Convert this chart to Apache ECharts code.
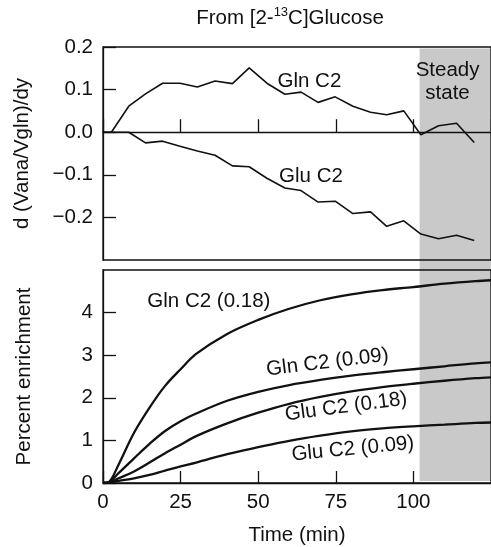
<!DOCTYPE html>
<html><head><meta charset="utf-8">
<script src="https://cdn.jsdelivr.net/npm/echarts@6/dist/echarts.min.js"></script>
<style>html,body{margin:0;padding:0;background:#fff}#c{width:491px;height:547px}</style>
</head><body><div id="c"></div>
<script>
// ---- Top panel: d(Vana/Vgln)/dy ----
const timeTop = [0, 2.7, 8.3, 13.7, 19.2, 24.8, 30.4, 36.1, 41.7, 47.1, 52.8, 58.6, 63.8, 69.3, 74.8, 80.5, 86.2, 91.4, 96.9, 102.4, 108.1, 113.9, 119.6];
const glnSlope = [0, 0, 0.061, 0.090, 0.115, 0.115, 0.106, 0.120, 0.114, 0.151, 0.115, 0.089, 0.094, 0.070, 0.083, 0.061, 0.047, 0.041, 0.050, -0.006, 0.015, 0.021, -0.024];
const gluSlope = [0, 0, 0, -0.025, -0.021, -0.033, -0.044, -0.054, -0.079, -0.081, -0.108, -0.131, -0.137, -0.164, -0.162, -0.191, -0.187, -0.221, -0.208, -0.239, -0.250, -0.242, -0.254];

// ---- Bottom panel: percent enrichment ----
const timeBottom = [0, 2, 5, 10, 15, 20, 25, 30, 40, 50, 60, 70, 80, 90, 100, 110, 120, 125];
const glnHigh = [0, 0.03, 0.43, 1.18, 1.77, 2.28, 2.67, 3.03, 3.50, 3.83, 4.09, 4.29, 4.43, 4.53, 4.60, 4.68, 4.74, 4.76];
const glnLow  = [0, 0.02, 0.23, 0.58, 0.92, 1.22, 1.45, 1.63, 1.93, 2.14, 2.30, 2.42, 2.52, 2.60, 2.67, 2.74, 2.81, 2.83];
const gluHigh = [0, 0.01, 0.11, 0.27, 0.48, 0.70, 0.90, 1.10, 1.40, 1.65, 1.86, 2.02, 2.15, 2.25, 2.33, 2.40, 2.46, 2.48];
const gluLow  = [0, 0.01, 0.05, 0.11, 0.19, 0.29, 0.39, 0.48, 0.68, 0.84, 0.99, 1.11, 1.21, 1.28, 1.33, 1.37, 1.41, 1.42];

const steadyStart = 102;

// annotation texts with their anchor in data coordinates
const notesTopText = ['Gln C2', 'Glu C2', 'Steady\nstate'];
const notesTopT = [66.5, 67, 111];
const notesTopV = [0.1185, -0.104, 0.119];
const notesBotText = ['Gln C2 (0.18)', 'Gln C2 (0.09)', 'Glu C2 (0.18)', 'Glu C2 (0.09)'];
const notesBotT = [34.1, 72.3, 78.3, 80.5];
const notesBotV = [4.26, 2.83, 1.79, 0.80];
const notesBotRot = [0, 7, 7.5, 5.5];

const FONT = '"Liberation Sans", Arial, Helvetica, sans-serif';
const FS = 20.5;
const INK = '#111';
const zip = (a, b) => a.map((x, i) => [x, b[i]]);

const chart = echarts.init(document.getElementById('c'));
const axisLine = {lineStyle: {color: INK, width: 1.3}};
const fmtTop = v => Math.abs(v) < 1e-9 ? '0.0' : (v < 0 ? '\u2212' + Math.abs(v).toFixed(1) : v.toFixed(1));

chart.setOption({
  animation: false,
  textStyle: {fontFamily: FONT},
  grid: [
    {left: 103, top: 47, right: -11, height: 213, show: true, borderColor: INK, borderWidth: 1.3},
    {left: 103, top: 270, right: -11, height: 213, show: true, borderColor: INK, borderWidth: 1.3}
  ],
  xAxis: [
    {gridIndex: 0, type: 'value', min: 0, max: 125, interval: 25,
     axisLine: {onZero: true, lineStyle: {color: INK, width: 1.3}},
     axisTick: {inside: true, length: 13, lineStyle: {color: INK, width: 1.3}},
     axisLabel: {show: false}, splitLine: {show: false}},
    {gridIndex: 1, type: 'value', min: 0, max: 125, interval: 25,
     axisLine: axisLine,
     axisTick: {inside: true, length: 12, lineStyle: {color: INK, width: 1.3}},
     axisLabel: {fontSize: FS, color: INK, margin: 9, showMaxLabel: false, fontFamily: FONT},
     splitLine: {show: false},
     name: 'Time (min)', nameLocation: 'middle', nameGap: 42,
     nameTextStyle: {fontSize: FS, color: INK, fontFamily: FONT}}
  ],
  yAxis: [
    {gridIndex: 0, type: 'value', min: -0.3, max: 0.2, interval: 0.1,
     axisLine: {show: true, onZero: false, lineStyle: {color: INK, width: 1.3}},
     axisTick: {inside: true, length: 13, lineStyle: {color: INK, width: 1.3}},
     axisLabel: {fontSize: FS, color: INK, margin: 10, showMinLabel: false, formatter: fmtTop, fontFamily: FONT, padding: [6, 0, 0, 0]},
     splitLine: {show: false},
     name: 'd (Vana/Vgln)/dy', nameLocation: 'middle', nameGap: 70, nameRotate: 90,
     nameTextStyle: {fontSize: FS, color: INK, fontFamily: FONT}},
    {gridIndex: 1, type: 'value', min: 0, max: 5, interval: 1,
     axisLine: {show: true, onZero: false, lineStyle: {color: INK, width: 1.3}},
     axisTick: {inside: true, length: 13, lineStyle: {color: INK, width: 1.3}},
     axisLabel: {fontSize: FS, color: INK, margin: 10, showMaxLabel: false, fontFamily: FONT, padding: [4, 0, 0, 0]},
     splitLine: {show: false},
     name: 'Percent enrichment', nameLocation: 'middle', nameGap: 68, nameRotate: 90,
     nameTextStyle: {fontSize: FS, color: INK, fontFamily: FONT}}
  ],
  series: [
    {type: 'line', xAxisIndex: 0, yAxisIndex: 0, data: zip(timeTop, glnSlope), showSymbol: false, lineStyle: {color: INK, width: 1.6}},
    {type: 'line', xAxisIndex: 0, yAxisIndex: 0, data: zip(timeTop, gluSlope), showSymbol: false, lineStyle: {color: INK, width: 1.6}},
    {type: 'line', xAxisIndex: 1, yAxisIndex: 1, data: zip(timeBottom, glnHigh), showSymbol: false, smooth: 0.35, lineStyle: {color: INK, width: 2.3}},
    {type: 'line', xAxisIndex: 1, yAxisIndex: 1, data: zip(timeBottom, glnLow), showSymbol: false, smooth: 0.35, lineStyle: {color: INK, width: 2.3}},
    {type: 'line', xAxisIndex: 1, yAxisIndex: 1, data: zip(timeBottom, gluHigh), showSymbol: false, smooth: 0.35, lineStyle: {color: INK, width: 2.3}},
    {type: 'line', xAxisIndex: 1, yAxisIndex: 1, data: zip(timeBottom, gluLow), showSymbol: false, smooth: 0.35, lineStyle: {color: INK, width: 2.3}}
  ]
});

const px = (gi, t, v) => chart.convertToPixel({gridIndex: gi}, [t, v]);
const x0 = px(0, steadyStart, 0)[0];
const yTop = px(0, 0, 0.2)[1] + 1.5;
const yBot = px(1, 0, 0)[1] - 2;
const els = [];
els.push({type: 'rect', z: -10, silent: true, shape: {x: x0, y: yTop, width: 600, height: yBot - yTop}, style: {fill: '#c9c9c9'}});
els.push({type: 'text', x: 290, y: 18, silent: true, style: {
  text: '{a|From [2-}{s|13}{a|C]Glucose}', align: 'center', verticalAlign: 'middle',
  rich: {a: {fontSize: FS, fontFamily: FONT, fill: INK, lineHeight: 24}, s: {fontSize: 13, fontFamily: FONT, fill: INK, lineHeight: 13, verticalAlign: 'top'}}}});
notesTopText.forEach((t, i) => {
  const p = px(0, notesTopT[i], notesTopV[i]);
  els.push({type: 'text', x: p[0], y: p[1], z: 10, silent: true,
    style: {text: t, fontSize: FS, fontFamily: FONT, fill: INK, align: 'center', verticalAlign: 'middle', lineHeight: 23}});
});
notesBotText.forEach((t, i) => {
  const p = px(1, notesBotT[i], notesBotV[i]);
  els.push({type: 'text', x: p[0], y: p[1], z: 10, silent: true, rotation: notesBotRot[i] * Math.PI / 180,
    style: {text: t, fontSize: FS, fontFamily: FONT, fill: INK, align: 'center', verticalAlign: 'middle'}});
});
chart.setOption({graphic: els});
</script>
</body></html>
